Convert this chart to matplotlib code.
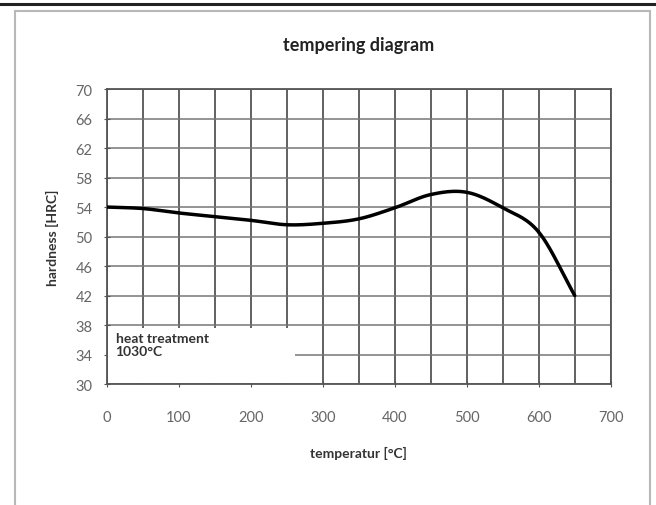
import numpy as np
import matplotlib.pyplot as plt
from matplotlib.patches import Rectangle
from matplotlib.lines import Line2D

# values
temps = [0, 50, 100, 150, 200, 250, 300, 350, 400, 450, 500, 550, 600, 650]
hardness = [54.0, 53.8, 53.2, 52.7, 52.2, 51.6, 51.8, 52.4, 53.9, 55.7, 56.0, 53.9, 50.6, 42.0]

x_ticks = [0, 100, 200, 300, 400, 500, 600, 700]
y_ticks = [30, 34, 38, 42, 46, 50, 54, 58, 62, 66, 70]


def smooth(x, y, n=400):
    # Catmull-Rom spline, similar to the smoothed line of a spreadsheet chart
    x = np.asarray(x, float)
    y = np.asarray(y, float)
    px = np.concatenate([[2 * x[0] - x[1]], x, [2 * x[-1] - x[-2]]])
    py = np.concatenate([[2 * y[0] - y[1]], y, [2 * y[-1] - y[-2]]])
    xs, ys = [], []
    for i in range(1, len(px) - 2):
        t = np.linspace(0, 1, 30)
        for arr, out in ((px, xs), (py, ys)):
            p0, p1, p2, p3 = arr[i - 1], arr[i], arr[i + 1], arr[i + 2]
            out.extend(0.5 * ((2 * p1) + (-p0 + p2) * t
                              + (2 * p0 - 5 * p1 + 4 * p2 - p3) * t ** 2
                              + (-p0 + 3 * p1 - 3 * p2 + p3) * t ** 3))
    return np.array(xs), np.array(ys)


plt.rcParams['font.family'] = ['Lato', 'DejaVu Sans']

fig = plt.figure(figsize=(6.56, 5.06), dpi=100)
ax = fig.add_axes([0.163, 0.239, 0.768, 0.583])

# outer frame like the screenshot
fig.add_artist(Line2D([0, 1], [1 - 5 / 506, 1 - 5 / 506], color='#222222', lw=2.2,
                      transform=fig.transFigure))
fig.add_artist(Rectangle((15 / 656, -0.02), (650 - 15) / 656, 1 - 12 / 506 + 0.02,
                         transform=fig.transFigure, fill=False, ec='#b8b8b8', lw=1.5))

ax.set_xlim(0, 700)
ax.set_ylim(30, 70)
ax.set_xticks(x_ticks)
ax.set_xticks(np.arange(0, 701, 50), minor=True)
ax.set_yticks(y_ticks)
ax.grid(True, which='both', axis='x', color='#555555', lw=1.3)
ax.grid(True, which='major', axis='y', color='#777777', lw=1.1)
ax.set_axisbelow(True)
for s in ax.spines.values():
    s.set_color('#555555')
    s.set_linewidth(1.3)
ax.tick_params(axis='both', which='major', colors='#555555', labelcolor='#666666',
               labelsize=10.5, length=5, direction='inout')
ax.tick_params(axis='x', which='minor', length=0)
ax.tick_params(axis='x', pad=16)
ax.tick_params(axis='y', pad=8)

# white box with note
ax.add_patch(Rectangle((1, 30.2), 260, 7.4, fc='white', ec='none', zorder=1.5))
ax.text(12, 35.4, 'heat treatment\n1030°C', fontsize=10, fontweight='bold',
        color='#333333', va='center', ha='left', linespacing=1.1, zorder=3)

sx, sy = smooth(temps, hardness)
ax.plot(sx, sy, color='black', lw=2.5, zorder=4, solid_capstyle='round')

ax.set_title('tempering diagram', fontsize=13, fontweight='bold', color='#222222', pad=28)
ax.set_xlabel('temperatur [°C]', fontsize=10, fontweight='bold', color='#333333', labelpad=16)
ax.set_ylabel('hardness [HRC]', fontsize=10, fontweight='bold', color='#333333', labelpad=12)

fig.savefig('out.png', dpi=100)
